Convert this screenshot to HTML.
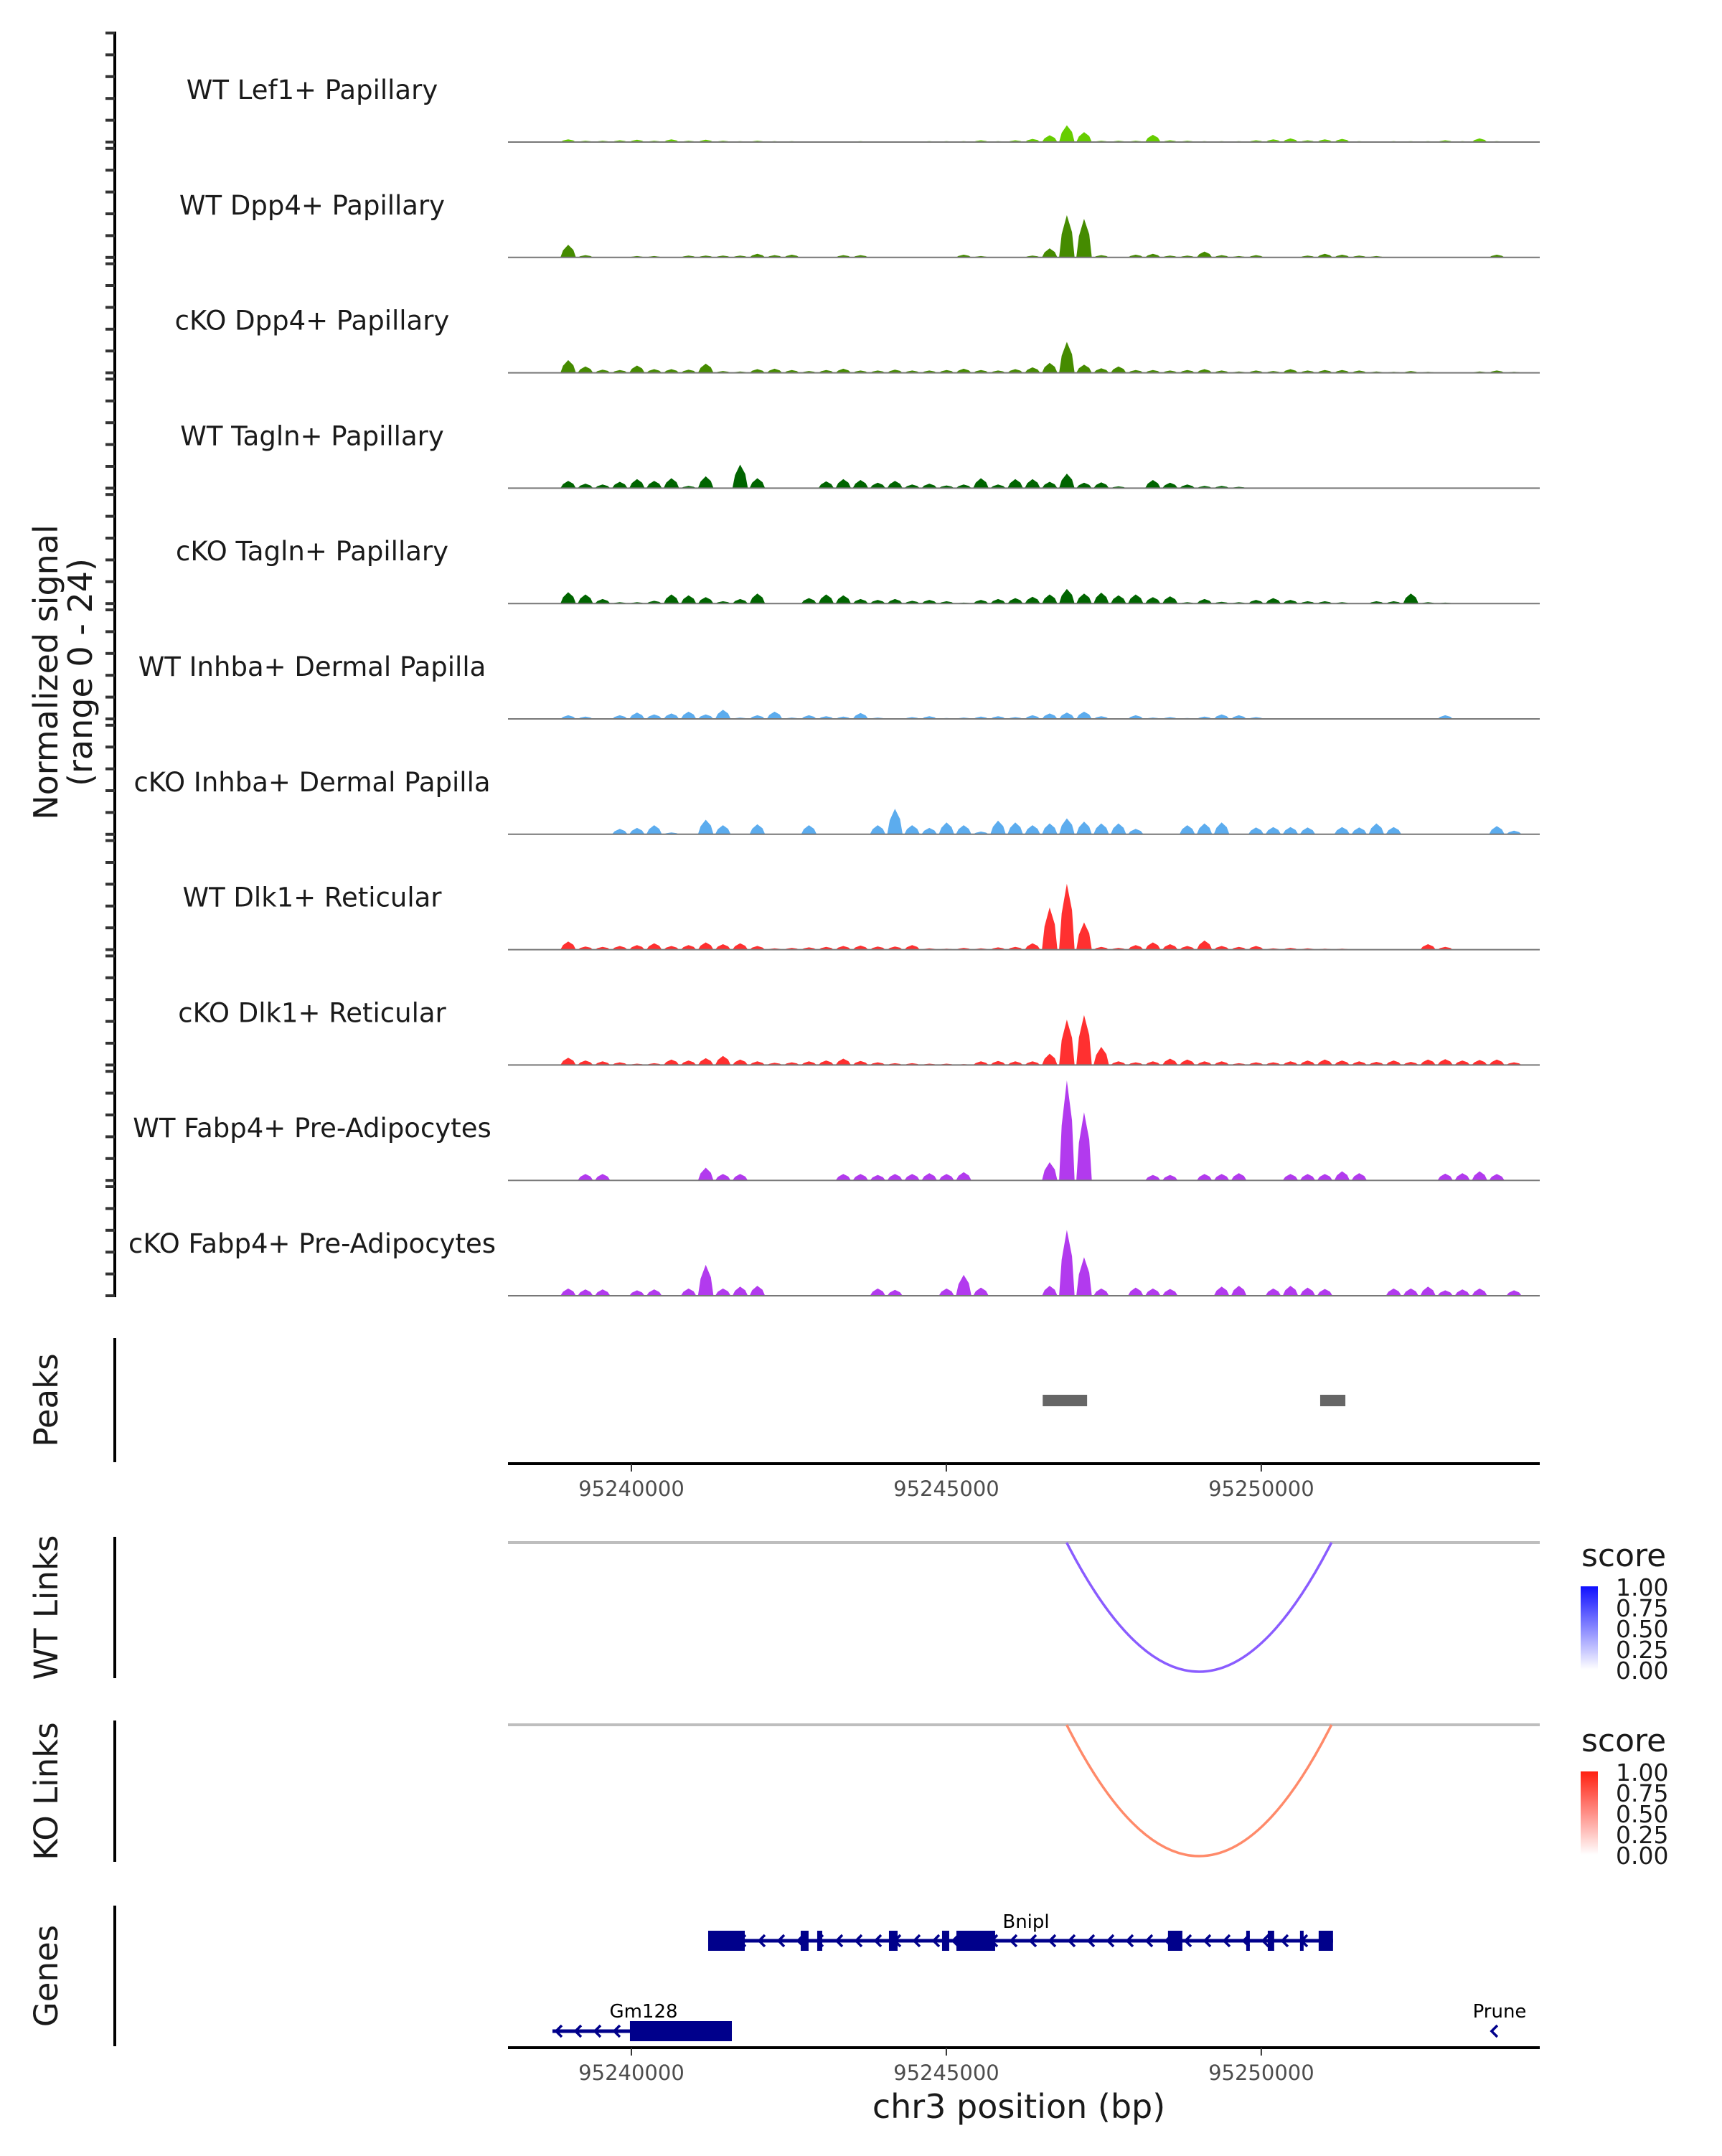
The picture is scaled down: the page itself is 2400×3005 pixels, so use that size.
<!DOCTYPE html>
<html><head><meta charset="utf-8"><style>
html,body{margin:0;padding:0;background:#fff}
svg text{font-family:"DejaVu Sans","Liberation Sans",sans-serif}
</style></head><body>
<svg id="chart" width="2400" height="3000" viewBox="0 0 2400 3000" xmlns="http://www.w3.org/2000/svg">
<defs>
<linearGradient id="gblue" x1="0" y1="1" x2="0" y2="0"><stop offset="0" stop-color="#ffffff"/><stop offset="1" stop-color="#1010ff"/></linearGradient>
<linearGradient id="gred" x1="0" y1="1" x2="0" y2="0"><stop offset="0" stop-color="#ffffff"/><stop offset="1" stop-color="#ff2010"/></linearGradient>
</defs>
<g id="tracks"></g>
<g id="lower"></g>
</svg>
<script>
const trackNames=["WT Lef1+ Papillary","WT Dpp4+ Papillary","cKO Dpp4+ Papillary","WT Tagln+ Papillary","cKO Tagln+ Papillary","WT Inhba+ Dermal Papilla","cKO Inhba+ Dermal Papilla","WT Dlk1+ Reticular","cKO Dlk1+ Reticular","WT Fabp4+ Pre-Adipocytes","cKO Fabp4+ Pre-Adipocytes"];
const trackColors=["#66cd00","#458b00","#458b00","#006400","#006400","#5cacee","#5cacee","#ff3030","#ff3030","#b23aee","#b23aee"];
const sigLef1=[0,0,0,0.6,0.3,0.3,0.4,0.5,0.3,0.6,0.3,0.5,0.3,0.2,0.3,0.2,0.2,0,0.1,0.1,0.2,0.1,0.1,0,0.2,0.2,0.2,0.4,0.2,0.4,0.7,1.5,3.7,2.2,0.3,0.3,0.3,1.6,0.4,0.3,0.2,0.2,0.2,0.4,0.6,0.8,0.4,0.6,0.7,0.2,0.1,0.2,0.2,0.2,0.4,0.2,0.8,0.2,0,0];
const sigWTDpp4=[0,0,0,2.8,0.5,0,0,0.3,0.3,0,0.4,0.4,0.4,0.4,0.8,0.5,0.6,0,0,0.5,0.5,0,0,0,0,0,0.6,0.3,0,0,0.4,2,9.3,8.5,0.5,0,0.6,0.8,0.4,0.4,1.3,0.5,0.3,0.5,0,0,0.4,0.8,0.6,0.4,0.3,0,0,0,0,0,0,0.6,0,0];
const sigKODpp4=[0,0,0,2.8,1.4,0.7,0.6,1.6,0.8,0.8,0.7,2,0.4,0.3,0.8,0.9,0.6,0.4,0.6,0.9,0.5,0.5,0.7,0.5,0.5,0.6,0.9,0.6,0.5,0.8,1.2,2.2,6.8,1.8,1,1.4,0.6,0.6,0.5,0.6,0.8,0.5,0.3,0.5,0.4,0.8,0.5,0.6,0.6,0.5,0.3,0.2,0.4,0.2,0,0,0.3,0.5,0.2,0];
const sigWTTagln=[0,0,0,1.6,1,0.8,1.4,2,1.6,2.2,0.5,2.6,0,5.2,2.2,0,0,0,1.5,2,1.8,1.2,1.6,0.8,1,0.6,0.8,2.2,0.8,2,2,1.4,3.2,1.2,1.3,0.4,0,1.8,1.2,0.8,0.5,0.5,0.3,0,0,0,0,0,0,0,0,0,0,0,0,0,0,0,0,0];
const sigKOTagln=[0,0,0,2.5,2,1,0.3,0.3,0.6,2,1.8,1.4,0.5,1,2.2,0,0,1.2,2,1.8,1,0.8,1,0.6,0.8,0.5,0.2,0.8,1,1.2,1.5,2,3.2,2.2,2.4,1.8,2,1.4,1.6,0.3,1,0.4,0.3,0.8,1.2,0.8,0.5,0.5,0.3,0,0.5,0.5,2.2,0.3,0.2,0,0,0,0,0];
const sigWTInhba=[0,0,0,0.8,0.5,0,0.8,1.4,1,1.2,1.6,1,2,0.3,0.8,1.6,0.3,0.8,0.6,0.5,1.3,0.3,0,0.4,0.6,0.2,0.3,0.5,0.6,0.4,0.8,1.2,1.4,1.6,0.6,0,0.8,0.3,0.4,0.2,0.5,1,0.8,0.4,0,0,0,0,0,0,0,0,0,0,0.8,0,0,0,0,0];
const sigKOInhba=[0,0,0,0,0,0,1.2,1.4,2,0.4,0,3.2,2,0,2.2,0,0,2,0,0,0,2,5.6,2,1.4,2.6,2,0.6,3,2.6,2,2.4,3.5,2.8,2.4,2.4,1.2,0,0,2,2.4,2.6,0,1.5,1.6,1.6,1.5,0,1.6,1.5,2.4,1.6,0,0,0,0,0,1.8,0.8,0];
const sigWTDlk1=[0,0,0,1.8,0.7,0.6,0.8,1,1.4,0.8,1,1.6,1.2,1.4,0.8,0.3,0.4,0.5,0.6,0.8,0.9,0.7,0.7,1,0.3,0.2,0.4,0.3,0.5,0.6,1.4,9.3,14.5,6,0.6,0.4,1,1.6,1.2,0.8,2,0.8,0.6,0.8,0.3,0.4,0.3,0.2,0.2,0,0,0,0,1.2,0.6,0,0,0,0,0];
const sigKODlk1=[0,0,0,1.6,1,0.8,0.6,0.3,0.4,1.2,1,1.5,2,1.2,0.8,0.5,0.6,0.8,1,1.4,0.9,0.6,0.4,0.4,0.3,0.3,0.2,0.8,0.9,0.8,0.8,2.5,10,11,4,0.8,0.6,0.8,1.4,1.2,0.8,0.8,0.4,0.6,0.6,0.8,1,1.2,1,0.8,0.7,1,0.7,1.2,1.3,1,1.1,1.2,0.6,0];
const sigWTFabp4=[0,0,0,0,1.4,1.4,0,0,0,0,0,2.8,1.4,1.4,0,0,0,0,0,1.4,1.4,1.2,1.4,1.4,1.6,1.4,1.8,0,0,0,0,4,22,15,0,0,0,1.2,1.2,0,1.4,1.4,1.6,0,0,1.4,1.4,1.4,2,1.6,0,0,0,0,1.5,1.6,2,1.4,0,0];
const sigKOFabp4=[0,0,0,1.6,1.4,1.4,0,1.2,1.4,0,1.6,6.8,1.6,2,2.2,0,0,0,0,0,0,1.6,1.3,0,0,1.6,4.6,1.8,0,0,0,2.2,14.5,8.5,1.6,0,1.8,1.6,1.5,0,0,2,2.2,0,1.6,2.2,1.8,1.5,0,0,0,1.6,1.6,2,1.2,1.4,1.6,0,1.2,0];
const trackSignals=[sigLef1,sigWTDpp4,sigKODpp4,sigWTTagln,sigKOTagln,sigWTInhba,sigKOInhba,sigWTDlk1,sigKODlk1,sigWTFabp4,sigKOFabp4];
const xTicks=[95240000,95245000,95250000];
const peakStarts=[95246530,95250935];
const peakEnds=[95247235,95251335];
const linkStarts=[95246910];
const linkEnds=[95251115];
const legendLabels=["1.00","0.75","0.50","0.25","0.00"];
const bniplExonStarts=[95241219,95242688,95242950,95244089,95244932,95245160,95248519,95249761,95250103,95250615,95250911];
const bniplExonEnds=[95241800,95242813,95243030,95244226,95245046,95245775,95248747,95249806,95250205,95250649,95251139];
const bniplRange=[95241219,95251139];
const gm128Range=[95238747,95241595];
const gm128Exon=[95239977,95241595];
const pruneStart=[95253702];

const NS="http://www.w3.org/2000/svg";
const X0=95238041,X1=95254421,PX0=708,PX1=2146;
function xs(bp){return PX0+(bp-X0)/(X1-X0)*(PX1-PX0);}
function mk(tag,attrs,parent){const e=document.createElementNS(NS,tag);for(const k in attrs)e.setAttribute(k,attrs[k]);parent.appendChild(e);return e;}
const tr=document.getElementById('tracks');
const lw=document.getElementById('lower');
const TOP=46,STEP=160.8,TH=152,UNIT=TH/24;
let ax=mk('line',{x1:160,y1:44,x2:160,y2:TOP+10*STEP+TH+2,stroke:'#000','stroke-width':4},tr);


trackNames.forEach((name,i)=>{
  const top=TOP+i*STEP,base=top+TH;
  for(let k=0;k<5;k++){
    let t=mk('line',{x1:147,x2:160,y1:top+k*TH/5,y2:top+k*TH/5,stroke:'#333','stroke-width':4},tr);
    
    
  }
  let tb=mk('line',{x1:147,x2:160,y1:base,y2:base,stroke:'#333','stroke-width':4},tr);
  
  
  const g=mk('g',{},tr);
  
  
  let lb=mk('text',{x:435,y:base-60,'text-anchor':'middle','font-size':37,fill:'#1a1a1a'},g);
  lb.textContent=name;
  
  
  const vals=trackSignals[i],n=vals.length,bw=(PX1-PX0)/n;
  let d='M'+PX0+','+base;
  vals.forEach((v,j)=>{
    const x=PX0+(j+0.5)*bw,y=base-v*UNIT;
    if(v===0){d+=' L'+(x-bw/2).toFixed(1)+','+base+' L'+(x+bw/2).toFixed(1)+','+base;}
    else{d+=' L'+(x-bw*0.45).toFixed(1)+','+base+' L'+(x-bw*0.3).toFixed(1)+','+(base-v*UNIT*0.55).toFixed(1)+' L'+x.toFixed(1)+','+y.toFixed(1)+' L'+(x+bw*0.3).toFixed(1)+','+(base-v*UNIT*0.6).toFixed(1)+' L'+(x+bw*0.45).toFixed(1)+','+base;}
  });
  d+=' L'+PX1+','+base+' Z';
  let a=mk('path',{d:d,fill:trackColors[i]},g);
  
  
  let bl=mk('line',{x1:PX0,x2:PX1,y1:base,y2:base,stroke:'#777','stroke-width':2},g);
  
  
});
let yt=mk('text',{transform:'translate(80,937) rotate(-90)','text-anchor':'middle','font-size':46,fill:'#1a1a1a'},tr);
yt.textContent='Normalized signal';


let yt2=mk('text',{transform:'translate(128,937) rotate(-90)','text-anchor':'middle','font-size':46,fill:'#1a1a1a'},tr);
yt2.textContent='(range 0 - 24)';



function sideLabel(txt,y1,y2,name){
  let l=mk('line',{x1:160,x2:160,y1:y1,y2:y2,stroke:'#000','stroke-width':4},lw);
  
  
  let t=mk('text',{transform:'translate(80,'+((y1+y2)/2)+') rotate(-90)','text-anchor':'middle','font-size':45,fill:'#1a1a1a'},lw);
  t.textContent=txt;
  
  
}
function xAxis(y,name){
  let l=mk('line',{x1:PX0,x2:PX1,y1:y,y2:y,stroke:'#000','stroke-width':4},lw);
  
  
  xTicks.forEach(v=>{
    let t=mk('line',{x1:xs(v),x2:xs(v),y1:y,y2:y+11,stroke:'#333','stroke-width':2},lw);
    
    
    let tx=mk('text',{x:xs(v),y:y+45,'text-anchor':'middle','font-size':29,fill:'#4d4d4d'},lw);
    tx.textContent=v;
    
    
  });
}
sideLabel('Peaks',1865,2038,'peaks');
peakStarts.forEach((s,i)=>{
  let r=mk('rect',{x:xs(s),y:1944,width:xs(peakEnds[i])-xs(s),height:16,fill:'#666'},lw);
  
  
});
xAxis(2040,'peaks-x-axis');
function links(y1,y2,base,bottom,grad,col,name,legY){
  sideLabel(name==='wt-links'?'WT Links':'KO Links',y1,y2,name);
  let b=mk('line',{x1:PX0,x2:PX1,y1:base,y2:base,stroke:'#bebebe','stroke-width':4},lw);
  
  
  linkStarts.forEach((s,i)=>{
    const a=xs(s),c=xs(linkEnds[i]),m=(a+c)/2;
    let p=mk('path',{d:'M'+a+','+base+' Q'+m+','+(2*bottom-base)+' '+c+','+base,fill:'none',stroke:col,'stroke-width':3.5},lw);
    
    
  });
  let st=mk('text',{x:2204,y:legY,'font-size':44,fill:'#1a1a1a'},lw);
  st.textContent='score';
  
  
  let r=mk('rect',{x:2203,y:legY+28,width:24,height:116,fill:'url(#'+grad+')'},lw);
  
  
  legendLabels.forEach((l,k)=>{
    let t=mk('text',{x:2252,y:legY+29+k*29+12,'font-size':33,fill:'#1a1a1a'},lw);
    t.textContent=l;
    
    
  });
}
links(2142,2339,2150,2330,'gblue','#8a5cff','wt-links',2183);
links(2398,2595,2404,2587,'gred','#ff8a6a','ko-links',2441);
sideLabel('Genes',2656,2852,'genes');
const GC='#00008b';
function chevrons(x1,x2,y,name){
  for(let x=x1+20;x<x2-8;x+=27){
    let c=mk('path',{d:'M'+(x+5)+','+(y-8)+' L'+(x-3)+','+y+' L'+(x+5)+','+(y+8),fill:'none',stroke:GC,'stroke-width':3.5},lw);
    
    
  }
}
const by=2705;
let bl=mk('line',{x1:xs(bniplRange[0]),x2:xs(bniplRange[1]),y1:by,y2:by,stroke:GC,'stroke-width':5},lw);


chevrons(xs(bniplRange[0]),xs(bniplRange[1]),by,'bnipl');
bniplExonStarts.forEach((s,i)=>{
  let r=mk('rect',{x:xs(s),y:by-14,width:Math.max(5,xs(bniplExonEnds[i])-xs(s)),height:28,fill:GC},lw);
  
  
});
let bt=mk('text',{x:1430,y:2687,'text-anchor':'middle','font-size':26,fill:'#000'},lw);
bt.textContent='Bnipl';


const gy=2831;
let gl=mk('line',{x1:xs(gm128Range[0]),x2:xs(gm128Range[1]),y1:gy,y2:gy,stroke:GC,'stroke-width':5},lw);


chevrons(xs(gm128Range[0])-12,xs(gm128Exon[0]),gy,'gm128');
let ge=mk('rect',{x:xs(gm128Exon[0]),y:gy-14,width:xs(gm128Exon[1])-xs(gm128Exon[0]),height:28,fill:GC},lw);


let gt=mk('text',{x:897,y:2812,'text-anchor':'middle','font-size':26,fill:'#000'},lw);
gt.textContent='Gm128';


let pa=mk('path',{d:'M'+(xs(pruneStart[0])+4)+','+(gy-8)+' L'+(xs(pruneStart[0])-4)+','+gy+' L'+(xs(pruneStart[0])+4)+','+(gy+8),fill:'none',stroke:GC,'stroke-width':3.5},lw);


let pt=mk('text',{x:2090,y:2812,'text-anchor':'middle','font-size':26,fill:'#000'},lw);
pt.textContent='Prune';


xAxis(2854,'genes-x-axis');
let xt=mk('text',{x:1420,y:2952,'text-anchor':'middle','font-size':46,fill:'#1a1a1a'},lw);
xt.textContent='chr3 position (bp)';


</script>
</body></html>
